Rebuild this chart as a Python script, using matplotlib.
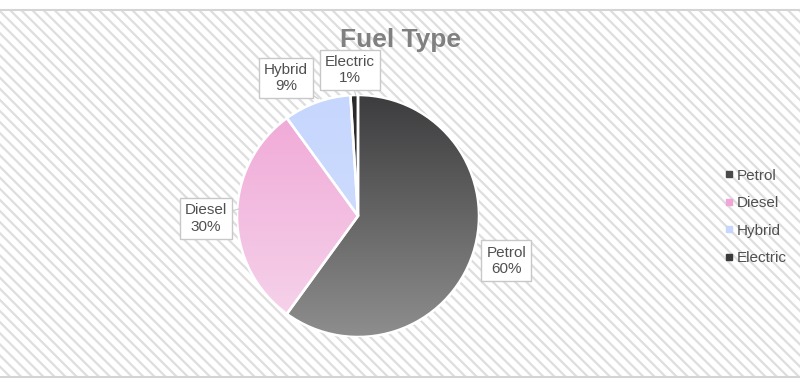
import numpy as np
import matplotlib
matplotlib.use("Agg")
import matplotlib.pyplot as plt
from matplotlib.patches import Rectangle, Wedge
from matplotlib.lines import Line2D

plt.rcParams['font.family'] = ['Liberation Sans', 'DejaVu Sans']
plt.rcParams['hatch.linewidth'] = 1.6

# data
fuel_types = ['Petrol', 'Diesel', 'Hybrid', 'Electric']
shares = [60, 30, 9, 1]
# gradient (top colour, bottom colour) per slice
grad_top = ['#3c3c3e', '#f0a6d6', '#c6d6fd', '#2a2a2a']
grad_bot = ['#8e8e8e', '#f6d6ec', '#d2e0fe', '#3a3a3a']
legend_colors = ['#4a4a4a', '#f0a6d6', '#c6d6fd', '#3a3a3a']
# label box centres (in pie data units)
label_pos = [(1.225, -0.37), (-1.255, -0.02), (-0.595, 1.14), (-0.066, 1.205)]
pointer_to = [(1.0, -0.24), (-0.98, 0.06), (-0.33, 0.97), (-0.02, 1.0)]

W, H = 800, 387
fig = plt.figure(figsize=(W / 100, H / 100), dpi=100)
fig.patch.set_facecolor('white')

# hatched background band
bg = fig.add_axes([0, 10 / H, 1, 367 / H])
bg.set_xlim(0, 1)
bg.set_ylim(0, 1)
bg.add_patch(Rectangle((0, 0), 1, 1, facecolor='white', edgecolor='#dedede',
                       linewidth=0, hatch='\\\\\\'))
for s in ['left', 'right']:
    bg.spines[s].set_visible(False)
for s in ['top', 'bottom']:
    bg.spines[s].set_color('#d4d4d4')
    bg.spines[s].set_linewidth(1.5)
bg.set_xticks([])
bg.set_yticks([])

# pie axes: centre (358, 216) px, radius 121 px
cx, cy, r = 358, 216, 121
ax = fig.add_axes([(cx - r) / W, (H - cy - r) / H, 2 * r / W, 2 * r / H])
ax.set_xlim(-1, 1)
ax.set_ylim(-1, 1)
ax.axis('off')

wedges, _ = ax.pie(shares, startangle=90, counterclock=False, radius=1,
                   colors=grad_top, wedgeprops=dict(linewidth=0))

yy = np.linspace(0, 1, 256).reshape(-1, 1)
for w, c0, c1 in zip(wedges, grad_top, grad_bot):
    a = np.array(matplotlib.colors.to_rgb(c0))
    b = np.array(matplotlib.colors.to_rgb(c1))
    img = a[None, None, :] * (1 - yy[:, :, None]) + b[None, None, :] * yy[:, :, None]
    img = np.repeat(img, 2, axis=1)
    im = ax.imshow(img, extent=(-1, 1, -1, 1), origin='upper', aspect='auto',
                   zorder=2, interpolation='bilinear')
    im.set_clip_path(w)
    ax.add_patch(Wedge((0, 0), 1, w.theta1, w.theta2, facecolor='none',
                       edgecolor='white', linewidth=1.8, zorder=3))
ax.set_xlim(-1, 1)
ax.set_ylim(-1, 1)

for name, val, (lx, ly), (px, py) in zip(fuel_types, shares, label_pos, pointer_to):
    ax.plot([lx, px], [ly, py], color='#cfcfcf', linewidth=0.9, zorder=4, clip_on=False)
    ax.text(lx, ly, f"{name}\n{val}%", ha='center', va='center', fontsize=11,
            color='#505050', linespacing=1.2, zorder=5,
            bbox=dict(boxstyle='square,pad=0.34', facecolor='white',
                      edgecolor='#c8c8c8', linewidth=1))

fig.text(0.5, (H - 40) / H, 'Fuel Type', ha='center', va='center', fontsize=19,
         fontweight='bold', color='#808080')

handles = [Line2D([0], [0], marker='s', linestyle='none', markersize=4,
                  markerfacecolor=c, markeredgecolor=c) for c in legend_colors]
fig.legend(handles, fuel_types, loc='center left',
           bbox_to_anchor=(711 / W, (H - 217) / H), frameon=False,
           fontsize=11, labelcolor='#505050', handlelength=0.5,
           handletextpad=0.3, labelspacing=0.88)

fig.savefig('out.png', dpi=100, facecolor='white')
